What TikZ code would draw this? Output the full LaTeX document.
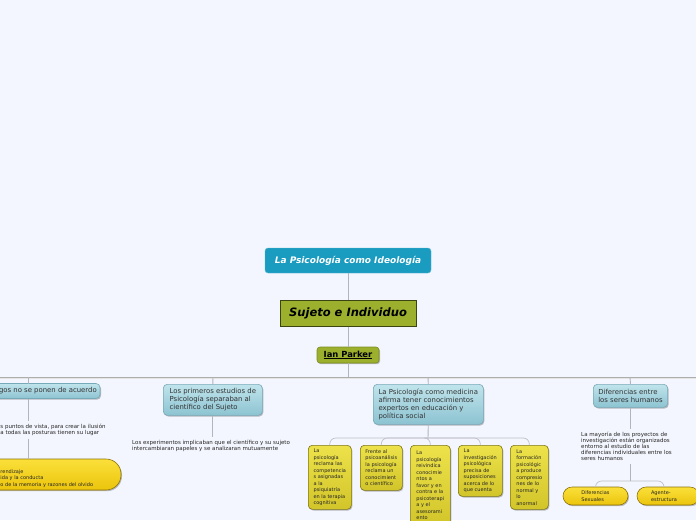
\documentclass[tikz,border=0pt]{standalone}
\usepackage{fontspec}
\setmainfont{DejaVu Sans}
\usetikzlibrary{shadows}
\definecolor{bg}{HTML}{F3F6FE}
\definecolor{teal1}{HTML}{1A9BC0}
\definecolor{olive1}{HTML}{9CB02E}
\definecolor{olivedk}{HTML}{3A4512}
\definecolor{olivemd}{HTML}{7A8C22}
\definecolor{bluetop}{HTML}{C0E4EC}
\definecolor{bluebot}{HTML}{8CC3D1}
\definecolor{blueedge}{HTML}{78A9B8}
\definecolor{ylwtop}{HTML}{EDE24A}
\definecolor{ylwbot}{HTML}{D2C52A}
\definecolor{ylwedge}{HTML}{7F7618}
\definecolor{goldtop}{HTML}{FBE03A}
\definecolor{goldbot}{HTML}{EBC40C}
\definecolor{goldedge}{HTML}{8C7208}
\definecolor{conncol}{HTML}{B4B4BE}
\definecolor{txt}{HTML}{333333}
\tikzset{
 sh/.style={drop shadow={shadow xshift=1pt,shadow yshift=-1.2pt,opacity=0.25,fill=black}},
 blueshape/.style={draw=blueedge, line width=0.6pt, rounded corners=4pt, top color=bluetop, bottom color=bluebot, sh},
 bluebox/.style={blueshape, text=txt, font=\fontsize{6.9}{8}\selectfont, align=left, inner xsep=5pt, inner ysep=3pt},
 ylwbox/.style={draw=ylwedge, line width=0.6pt, rounded corners=4pt, top color=ylwtop, bottom color=ylwbot, text=black!85, font=\fontsize{5}{6.5}\selectfont, align=left, inner xsep=3.5pt, inner ysep=3pt, anchor=north west, sh},
 goldshape/.style={draw=goldedge, line width=0.6pt, top color=goldtop, bottom color=goldbot, sh},
 goldpill/.style={goldshape, text=black!85, font=\fontsize{5}{6.5}\selectfont, align=left},
 smalltext/.style={font=\fontsize{5.5}{6.2}\selectfont, text=black!85, align=left, inner sep=0pt, anchor=north west},
 conn/.style={draw=conncol, line width=0.9pt},
 branch/.style={draw=conncol!85, line width=0.7pt, rounded corners=6pt},
}
\begin{document}
\begin{tikzpicture}[x=1pt,y=-1pt]
\useasboundingbox (0,0) rectangle (696,520);
\clip (0,0) rectangle (696,520);
\fill[bg] (0,0) rectangle (696,520);

% top chain
\node[fill=teal1, draw=teal1!70!white, rounded corners=3pt, minimum width=166pt, minimum height=25pt, text=white, font=\fontsize{9}{10}\selectfont\bfseries\itshape] (t) at (348,260.5) {La Psicología como Ideología};
\node[fill=olive1, draw=olivedk, line width=1pt, minimum width=136pt, minimum height=26pt, font=\fontsize{11.5}{13}\selectfont\bfseries\itshape, sh] (s) at (348,313) {Sujeto e Individuo};
\node[fill=olive1, draw=olivemd, line width=0.6pt, rounded corners=3pt, minimum width=62pt, minimum height=16pt, inner sep=1pt, font=\fontsize{8.4}{9}\selectfont\bfseries, sh] (ian) at (348,355) {\underline{Ian Parker}};

\coordinate (j0) at (348,377);
\coordinate (hl) at (0,377);
\coordinate (hr) at (696,377);
\coordinate (c1) at (28,377);
\coordinate (c2) at (213,377);
\coordinate (c3) at (428,377);
\coordinate (c4) at (630,377);

\draw[conn] (t) -- (s);
\draw[conn] (s) -- (ian);
\draw[conn] (ian) -- (j0);
\draw[draw=black!10, line width=1pt] (0,378.6) -- (696,378.6);
\draw[conn, draw=black!32] (hl) -- (hr);

% branch 1 (box continues past the left edge)
\path[blueshape] (-44,383.5) rectangle (100,398.5);
\node[text=txt, font=\fontsize{6.9}{8}\selectfont, inner xsep=3pt, inner ysep=3pt, anchor=east] (b1) at (100,391) {gos no se ponen de acuerdo};
\node[smalltext] (t1) at (0.3,424) {s puntos de vista, para crear la ilusión\\a todas las posturas tienen su lugar};
\path[goldshape, rounded corners=15pt] (-65,459) rectangle (121,490);
\node[text=black!85, font=\fontsize{5}{6.5}\selectfont, align=left, inner sep=0pt, anchor=west] (p0) at (0.3,478.5) {rendizaje\\ida y la conducta\\o de la memoria y razones del olvido};
\coordinate (b1n) at (28,383.5);
\coordinate (b1s) at (28,398.5);
\coordinate (p0n) at (28,459);
\draw[conn] (c1) -- (b1n);
\draw[conn, shorten >=3pt] (b1s) -- (b1s |- t1.north);
\draw[conn, shorten <=3pt] (p0n |- t1.south) -- (p0n);

% branch 2
\node[bluebox, anchor=north west, minimum height=31pt, minimum width=99pt] (b2) at (163,384) {Los primeros estudios de\\Psicología separaban al\\científico del Sujeto};
\node[smalltext] (t2) at (132,440) {Los experimentos implicaban que el científico y su sujeto\\intercambiaran papeles y se analizaran mutuamente};
\draw[conn] (c2) -- (b2.north);
\draw[conn, shorten >=3pt] (b2.south) -- (b2.south |- t2.north);

% branch 3
\node[bluebox, anchor=north west, minimum height=40pt, minimum width=110pt] (b3) at (373,384) {La Psicología como medicina\\afirma tener conocimientos\\expertos en educación y\\política social};
\coordinate (j3) at (428,438);
\draw[conn] (c3) -- (b3.north);
\draw[conn] (b3.south) -- (j3);
\node[ylwbox, minimum width=43pt, minimum height=64pt] (y1) at (308,445) {La\\psicología\\reclama las\\competencia\\s asignadas\\a la\\psiquiatría\\en la terapia\\cognitiva};
\node[ylwbox, minimum width=42pt, minimum height=45pt] (y2) at (360,445) {Frente al\\psicoanálisis\\la psicología\\reclama un\\conocimient\\o científico};
\node[ylwbox, minimum width=40pt, minimum height=80pt] (y3) at (410,445) {La\\psicología\\reivindica\\conocimie\\ntos a\\favor y en\\contra e la\\psicoterapi\\a y el\\asesorami\\ento};
\node[ylwbox, minimum width=44pt, minimum height=51pt] (y4) at (458,445) {La\\investigación\\psicológica\\precisa de\\suposiciones\\acerca de lo\\que cuenta};
\node[ylwbox, minimum width=38pt, minimum height=64pt] (y5) at (510,445) {La\\formación\\psicológic\\a produce\\compresio\\nes de lo\\normal y\\lo\\anormal};
\draw[branch] (j3) -| (y1.north);
\draw[branch] (j3) -| (y2.north);
\draw[branch] (j3) -| (y3.north);
\draw[branch] (j3) -| (y4.north);
\draw[branch] (j3) -| (y5.north);

% branch 4
\node[bluebox, anchor=north west, minimum height=23pt, minimum width=74pt] (b4) at (593,384) {Diferencias entre\\los seres humanos};
\node[smalltext] (t4) at (581,431.5) {La mayoría de los proyectos de\\investigación están organizados\\entorno al estudio de las\\diferencias individuales entre los\\seres humanos};
\coordinate (j4) at (630,481);
\draw[conn] (c4) -- (b4.north);
\draw[conn, shorten >=3pt] (b4.south) -- (b4.south |- t4.north);
\draw[conn, shorten <=3pt] (j4 |- t4.south) -- (j4);
\node[goldpill, rounded corners=9pt, minimum width=65pt, minimum height=18pt] (p1) at (595.5,496) {Diferencias\\Sexuales};
\path[goldshape, rounded corners=9pt] (637,487) rectangle (699,505);
\node[text=black!85, font=\fontsize{5}{6.5}\selectfont, align=left, inner sep=0pt] (p2) at (664,496) {Agente-\\estructura};
\draw[branch] (j4) -| (p1.north);
\draw[branch] (j4) -| (p2.north |- 0,487);
\end{tikzpicture}
\end{document}
